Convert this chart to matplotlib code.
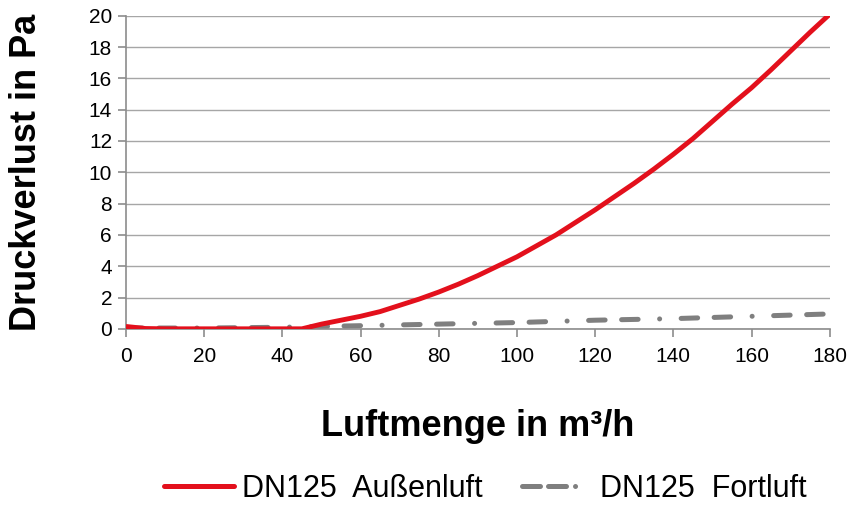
import matplotlib.pyplot as plt
from matplotlib.lines import Line2D
import numpy as np

plt.rcParams['font.family'] = ['Liberation Sans', 'DejaVu Sans']

# Luftmenge (m3/h) und Druckverlust (Pa)
x_aussen = [0, 5, 10, 20, 30, 40, 45, 50, 55, 60, 65, 70, 75, 80, 85, 90, 95,
            100, 105, 110, 115, 120, 125, 130, 135, 140, 145, 150, 155, 160,
            165, 170, 175, 180]
y_aussen = [0.15, 0.02, 0.0, 0.0, 0.0, 0.0, 0.0, 0.3, 0.55, 0.8, 1.1, 1.5,
            1.9, 2.35, 2.85, 3.4, 4.0, 4.6, 5.3, 6.0, 6.8, 7.6, 8.45, 9.3,
            10.2, 11.15, 12.15, 13.25, 14.35, 15.4, 16.55, 17.75, 18.95, 20.1]

x_fort = [0, 20, 40, 60, 80, 100, 120, 140, 160, 180]
y_fort = [0.05, 0.05, 0.1, 0.2, 0.3, 0.4, 0.55, 0.65, 0.8, 0.95]

labels = ['DN125  Außenluft', 'DN125  Fortluft']
red = '#e3101c'
gray = '#7f7f7f'

fig = plt.figure(figsize=(8.51, 5.09), dpi=100)
ax = fig.add_axes([0.148, 0.354, 0.827, 0.615])

ax.plot(x_aussen, y_aussen, color=red, lw=3.5, solid_capstyle='butt',
        solid_joinstyle='round', zorder=3)
ax.plot(x_fort, y_fort, color=gray, lw=3.6, dash_capstyle='round',
        linestyle=(0, (3.3, 3.3, 3.3, 4.3, 0.01, 4.3)), zorder=2)

ax.set_xlim(0, 180)
ax.set_ylim(0, 20)
ax.set_xticks(np.arange(0, 181, 20))
ax.set_yticks(np.arange(0, 21, 2))
ax.grid(axis='y', color='#a6a6a6', lw=1)
ax.set_axisbelow(True)
for s in ['top', 'right']:
    ax.spines[s].set_visible(False)
for s in ['left', 'bottom']:
    ax.spines[s].set_color('#8c8c8c')
    ax.spines[s].set_linewidth(1.2)
ax.tick_params(axis='both', colors='#8c8c8c', length=6, width=1.2,
               labelsize=15, labelcolor='black')
ax.tick_params(axis='x', pad=7)
ax.tick_params(axis='y', pad=4)

ax.set_xlabel('Luftmenge in m³/h', fontsize=26, fontweight='bold', labelpad=31)
ax.set_ylabel('Druckverlust in Pa', fontsize=26, fontweight='bold', labelpad=32)

# legend handles (Excel draws the legend dashes tighter than in the plot)
h_red = Line2D([], [], color=red, lw=3.6, solid_capstyle='round')
h_gray = Line2D([], [], color=gray, lw=3.6, dash_capstyle='round',
                linestyle=(0, (3.6, 1.6, 3.6, 1.8, 0.01, 6)))
fig.legend([h_red, h_gray], labels, loc='center', bbox_to_anchor=(0.57, 0.04),
           ncol=2, frameon=False, fontsize=22, handlelength=2.3,
           columnspacing=1.3, handletextpad=0.25)

fig.savefig('out.png', dpi=100)
